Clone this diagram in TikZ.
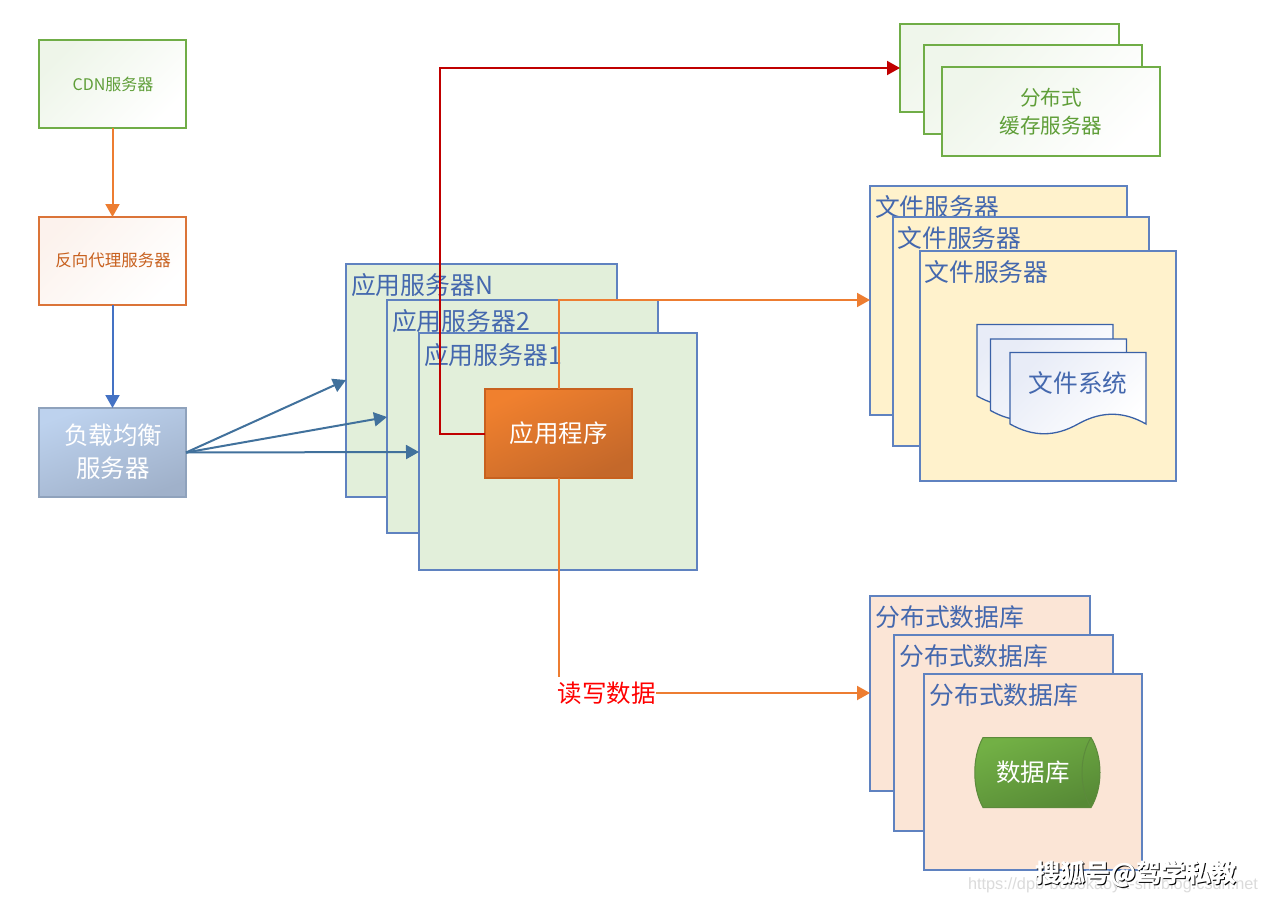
\documentclass[tikz,border=0pt]{standalone}
\usepackage{fontspec}
\setmainfont{Noto Sans CJK SC}
\newfontfamily\latinfont{Liberation Sans}
\usetikzlibrary{arrows.meta}
\definecolor{stackblue}{HTML}{5F82C0}
\definecolor{labelblue}{HTML}{4468AE}
\definecolor{flowsteel}{HTML}{41719C}
\definecolor{floworange}{HTML}{ED7D31}
\definecolor{flowblue}{HTML}{4472C4}
\definecolor{flowred}{HTML}{C00000}
\definecolor{appgreen}{HTML}{E2EFDA}
\definecolor{fileyellow}{HTML}{FFF2CC}
\definecolor{dbpeach}{HTML}{FBE5D6}
\definecolor{cdngreen}{HTML}{70AD47}
\definecolor{cdntext}{HTML}{5F9E38}
\definecolor{proxyline}{HTML}{DB7438}
\definecolor{proxytext}{HTML}{C8611F}
\definecolor{lbline}{HTML}{8FA2BC}
\definecolor{lbtop}{HTML}{BDD2EE}
\definecolor{lbbottom}{HTML}{A0B1CA}
\definecolor{progtop}{HTML}{F0802E}
\definecolor{progbottom}{HTML}{C4682A}
\definecolor{dbtop}{HTML}{72B045}
\definecolor{dbbottom}{HTML}{578A36}
\definecolor{dbline}{HTML}{5C8A3C}
\definecolor{docblue}{HTML}{E8ECF7}
\tikzset{
  x=1pt,y=-1pt,
  every node/.style={inner sep=0pt,outer sep=0pt},
  flatbox/.style={draw=stackblue,line width=1.5pt,anchor=north west},
  appbox/.style={flatbox,fill=appgreen},
  filebox/.style={flatbox,fill=fileyellow},
  dbbox/.style={flatbox,fill=dbpeach},
  stacklabel/.style={text=labelblue,font=\fontsize{24.8}{24.8}\selectfont,anchor=west},
  diag/.style 2 args={top color=#1,bottom color=#2,shading angle=45},
  palebox/.style 2 args={anchor=north west,line width=1.5pt,draw=#1,diag={#2}{white}},
  arrowline/.style={line width=2pt,-{Triangle[length=13pt,width=14pt]}},
}
\begin{document}
\begin{tikzpicture}
\useasboundingbox (0,0) rectangle (1267,902);
\fill[white] (0,0) rectangle (1267,902);

% entry tier on the left
\node[palebox={cdngreen}{cdngreen!12!white},minimum width=147pt,minimum height=88pt] (cdn) at (39,40) {};
\node[text=cdntext,font=\fontsize{16}{16}\selectfont] (cdntxt) at (113,84) {CDN服务器};
\node[palebox={proxyline}{proxyline!9!white},minimum width=147pt,minimum height=88pt] (proxy) at (39,217) {};
\node[text=proxytext,font=\fontsize{16.5}{16.5}\selectfont] (proxytxt) at (113,260) {反向代理服务器};
\node[anchor=north west,minimum width=147pt,minimum height=89pt,line width=1.5pt,draw=lbline,
  top color=lbtop,bottom color=lbbottom,shading angle=20] (lb) at (39,408) {};
\node[text=white,font=\fontsize{24.5}{33}\selectfont,align=center] (lbtxt) at (113,452) {负载均衡\\服务器};

% application servers
\node[appbox,minimum width=271pt,minimum height=233pt] (appN) at (346,264) {};
\node[stacklabel] (appNtxt) at (351,285) {应用服务器N};
\node[appbox,minimum width=271pt,minimum height=233pt] (app2) at (387,300) {};
\node[stacklabel] (app2txt) at (392,321) {应用服务器2};
\node[appbox,minimum width=278pt,minimum height=237pt] (app1) at (419,333) {};
\node[stacklabel] (app1txt) at (424,355) {应用服务器1};
\node[anchor=north west,minimum width=147pt,minimum height=89pt,line width=1.2pt,draw=proxytext,
  top color=progtop,bottom color=progbottom,shading angle=25] (prog) at (485,389) {};
\node[text=white,font=\fontsize{24.5}{24.5}\selectfont] (progtxt) at (558.5,433) {应用程序};

% distributed cache stack
\node[palebox={cdngreen}{cdngreen!11!white},minimum width=219pt,minimum height=88pt] (cacheA) at (900,24) {};
\node[palebox={cdngreen}{cdngreen!11!white},minimum width=218pt,minimum height=89pt] (cacheB) at (924,45) {};
\node[palebox={cdngreen}{cdngreen!11!white},minimum width=218pt,minimum height=89pt] (cacheC) at (942,67) {};
\node[text=cdntext,font=\fontsize{20.6}{28}\selectfont,align=center] (cachetxt) at (1051,112) {分布式\\缓存服务器};

% file server stack
\node[filebox,minimum width=257pt,minimum height=229pt] (fileA) at (870,186) {};
\node[stacklabel] (fileAtxt) at (875,206.5) {文件服务器};
\node[filebox,minimum width=256pt,minimum height=229pt] (fileB) at (893,217) {};
\node[stacklabel] (fileBtxt) at (897.5,237.5) {文件服务器};
\node[filebox,minimum width=256pt,minimum height=230pt] (fileC) at (920,251) {};
\node[stacklabel] (fileCtxt) at (924.5,272) {文件服务器};

% document pile inside the file server
\foreach \dx/\dy in {0/0,13.5/14.5,33/28}{
  \begin{scope}[shift={(\dx,\dy)}]
    \shade[draw=flowblue!85!black,line width=1.3pt,diag={docblue}{white}]
      (977,324.5) -- (1113,324.5) -- (1113,396)
      .. controls (1092,384) and (1070,382) .. (1045,396)
      .. controls (1022,409) and (1000,409) .. (977,396) -- cycle;
  \end{scope}
}
\node[text=labelblue,font=\fontsize{24.7}{24.7}\selectfont] (doctxt) at (1078,383) {文件系统};

% database stack
\node[dbbox,minimum width=220pt,minimum height=195pt] (dbA) at (870,596) {};
\node[stacklabel] (dbAtxt) at (875.5,617) {分布式数据库};
\node[dbbox,minimum width=219pt,minimum height=196pt] (dbB) at (894,635) {};
\node[stacklabel] (dbBtxt) at (899.5,656) {分布式数据库};
\node[dbbox,minimum width=218pt,minimum height=196pt] (dbC) at (924,674) {};
\node[stacklabel] (dbCtxt) at (929.5,695) {分布式数据库};

% database drum
\shade[draw=dbline,line width=1pt,top color=dbtop,bottom color=dbbottom,shading angle=20]
  (983,737.5) -- (1091,737.5) .. controls (1103,757) and (1103,788) .. (1091,807.5)
  -- (983,807.5) .. controls (972,788) and (972,757) .. (983,737.5) -- cycle;
\draw[dbline,line width=1pt] (1091,737.5) .. controls (1079,757) and (1079,788) .. (1091,807.5);
\node[text=white,font=\fontsize{24.5}{24.5}\selectfont] (drumtxt) at (1033,772) {数据库};

% connectors
\draw[arrowline,floworange] (cdn.south) -- (proxy.north);
\draw[arrowline,flowblue] (proxy.south) -- (lb.north);
\coordinate (hubN) at (346,380);
\coordinate (hub2) at (387,417);
\coordinate (hub1) at (419,452);
\draw[arrowline,flowsteel] (lb.east) -- (hubN);
\draw[arrowline,flowsteel] (lb.east) -- (hub2);
\draw[arrowline,flowsteel] (lb.east) -- (hub1);

\coordinate (redB) at (440,68);
\coordinate (redC) at (900,68);
\draw[arrowline,flowred] (prog.west) -| (redB) -- (redC);

\coordinate (fileA2) at (870,300);
\draw[arrowline,floworange] (prog.north) |- (fileA2);

\node[text=red,font=\fontsize{24.5}{24.5}\selectfont] (rw) at (606.5,693) {读写数据};
\coordinate (rwA) at (558.5,677);
\coordinate (rwB) at (870,693);
\draw[line width=2pt,floworange] (prog.south) -- (rwA);
\draw[arrowline,floworange] (rw.east) -- (rwB);

% image credits in the lower right corner
\node[text=black!14,font=\latinfont\fontsize{16.3}{16.3}\selectfont,anchor=east] (credit) at (1258,885) {https://dpb-bobokaoya-sm.blog.csdn.net};
\node[text=black,font=\fontsize{25}{25}\selectfont\bfseries,anchor=west] (markshadow) at (1036.5,875.5) {搜狐号@驾学私教};
\node[text=white,font=\fontsize{25}{25}\selectfont\bfseries,anchor=west] (mark) at (1035,874) {搜狐号@驾学私教};
\end{tikzpicture}
\end{document}
